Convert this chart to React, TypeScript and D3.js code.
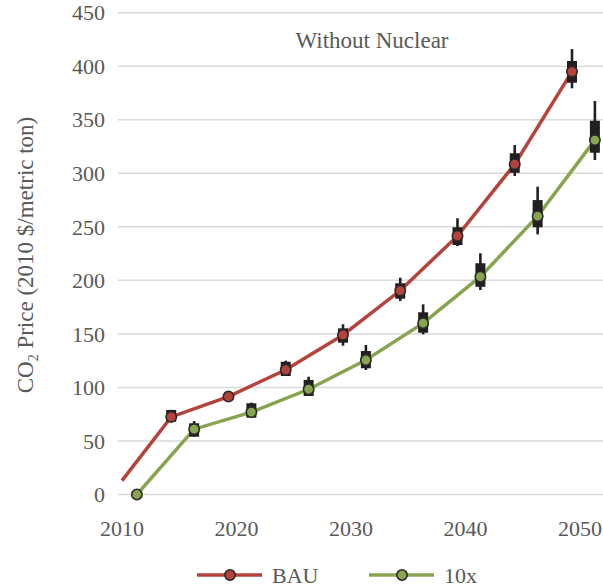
import React from "react";
import * as d3 from "d3";

// ---- data ----
const yTicks = [0, 50, 100, 150, 200, 250, 300, 350, 400, 450];
const xTicks = [2010, 2020, 2030, 2040, 2050];

const bauYears = [2010, 2014.3, 2019.3, 2024.3, 2029.3, 2034.3, 2039.3, 2044.3, 2049.3];
const bauValues = [13, 72.5, 91.5, 116.5, 149, 190.5, 241.5, 308.5, 395];
const bauMarker = [false, true, true, true, true, true, true, true, true];
const bauBoxLow: (number | null)[] = [null, 68, null, 110.7, 141.8, 182.9, 233, 300.5, 384.6];
const bauBoxHigh: (number | null)[] = [null, 79, null, 124, 155.2, 197.3, 249.6, 318.7, 404.9];
const bauWhiskLow: (number | null)[] = [null, 68, null, 110.7, 139, 180.7, 232, 297.5, 379.4];
const bauWhiskHigh: (number | null)[] = [null, 79, null, 125, 159, 202.5, 258, 326.4, 416];

const tenYears = [2011.3, 2016.3, 2021.3, 2026.3, 2031.3, 2036.3, 2041.3, 2046.3, 2051.3];
const tenValues = [0, 61, 77, 98.3, 125.6, 160, 203.4, 260, 331];
const tenMarker = [true, true, true, true, true, true, true, true, true];
const tenBoxLow: (number | null)[] = [null, 54, 71.7, 92, 117.9, 151.1, 194, 249.6, 319.2];
const tenBoxHigh: (number | null)[] = [null, 66.5, 85.2, 107, 134, 170.2, 216, 275, 349.1];
const tenWhiskLow: (number | null)[] = [null, 54, 71.7, 92, 116.3, 149.6, 191, 243, 312.4];
const tenWhiskHigh: (number | null)[] = [null, 68.6, 85.8, 110, 139.7, 177.6, 225.3, 287.5, 367.5];

const seriesNames = ["BAU", "10x"];
const seriesColors = ["#b5433c", "#87a54f"];
const title = "Without Nuclear";

const W = 603;
const H = 588;
const FONT = "'Liberation Serif', 'Times New Roman', serif";
const TEXT = "#595959";

export default function App() {
  const x = d3.scaleLinear().domain([2010, 2050]).range([122, 580]);
  const y = d3.scaleLinear().domain([0, 450]).range([494.5, 12.7]);
  const line = d3
    .line<[number, number]>()
    .x((d) => x(d[0]))
    .y((d) => y(d[1]));

  const series = [
    {
      years: bauYears, values: bauValues, marker: bauMarker,
      bl: bauBoxLow, bh: bauBoxHigh, wl: bauWhiskLow, wh: bauWhiskHigh,
    },
    {
      years: tenYears, values: tenValues, marker: tenMarker,
      bl: tenBoxLow, bh: tenBoxHigh, wl: tenWhiskLow, wh: tenWhiskHigh,
    },
  ];

  return (
    <svg
      width={W}
      height={H}
      style={{ position: "absolute", left: 0, top: 0, background: "#fff" }}
      fontFamily={FONT}
    >
      {/* gridlines */}
      {yTicks.map((t) => (
        <line key={t} x1={118} x2={W} y1={y(t)} y2={y(t)} stroke="#d9d9d9" strokeWidth={1.5} />
      ))}
      {/* y tick labels */}
      {yTicks.map((t) => (
        <text key={t} x={105} y={y(t)} dy="0.35em" textAnchor="end" fontSize={22} fill={TEXT}>
          {t}
        </text>
      ))}
      {/* x tick labels */}
      {xTicks.map((t) => (
        <text key={t} x={x(t)} y={536} textAnchor="middle" fontSize={22} fill={TEXT}>
          {t}
        </text>
      ))}
      {/* y title */}
      <text
        transform={`translate(33,255) rotate(-90)`}
        textAnchor="middle"
        fontSize={23}
        fill={TEXT}
      >
        CO<tspan fontSize={14} dy={5}>2</tspan>
        <tspan dy={-5}> Price (2010 $/metric ton)</tspan>
      </text>
      {/* chart title */}
      <text x={372} y={48} textAnchor="middle" fontSize={23} fill={TEXT}>
        {title}
      </text>

      {/* lines */}
      {series.map((s, i) => (
        <path
          key={i}
          d={line(s.years.map((yr, j) => [yr, s.values[j]] as [number, number])) || ""}
          fill="none"
          stroke={seriesColors[i]}
          strokeWidth={3.5}
        />
      ))}
      {/* boxes */}
      {series.map((s, i) =>
        s.years.map((yr, j) =>
          s.bl[j] == null ? null : (
            <g key={`b${i}-${j}`}>
              <line
                x1={x(yr)} x2={x(yr)}
                y1={y(s.wl[j] as number)} y2={y(s.wh[j] as number)}
                stroke="#231f20" strokeWidth={2.6}
              />
              <rect
                x={x(yr) - 5}
                width={10}
                y={y(s.bh[j] as number)}
                height={y(s.bl[j] as number) - y(s.bh[j] as number)}
                fill="#231f20"
              />
            </g>
          )
        )
      )}
      {/* markers */}
      {series.map((s, i) =>
        s.years.map((yr, j) =>
          s.marker[j] ? (
            <circle
              key={`m${i}-${j}`}
              cx={x(yr)}
              cy={y(s.values[j])}
              r={5.2}
              fill={seriesColors[i]}
              stroke="#2a2a2a"
              strokeWidth={1.6}
            />
          ) : null
        )
      )}

      {/* legend */}
      {seriesNames.map((n, i) => {
        const lx = [197, 369][i];
        return (
          <g key={n}>
            <line x1={lx} x2={lx + 65} y1={575} y2={575} stroke={seriesColors[i]} strokeWidth={3.5} />
            <circle cx={lx + 33} cy={575} r={5.2} fill={seriesColors[i]} stroke="#2a2a2a" strokeWidth={1.6} />
            <text x={lx + 75} y={583} fontSize={22} fill={TEXT}>
              {n}
            </text>
          </g>
        );
      })}
    </svg>
  );
}
